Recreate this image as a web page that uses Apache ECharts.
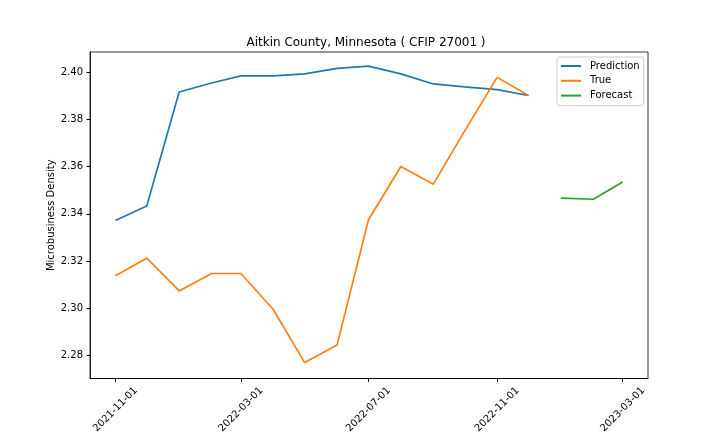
<!DOCTYPE html>
<html>
<head>
<meta charset="utf-8">
<script src="https://cdn.jsdelivr.net/npm/echarts@6/dist/echarts.min.js"></script>
<style>
  html, body { margin: 0; padding: 0; background: #fff; }
  #main { width: 720px; height: 432px; }
</style>
</head>
<body>
<div id="main"></div>
<script>
// data
var predDates = ['2021-11-01','2021-12-01','2022-01-01','2022-02-01','2022-03-01','2022-04-01','2022-05-01',
                 '2022-06-01','2022-07-01','2022-08-01','2022-09-01','2022-10-01','2022-11-01','2022-12-01'];
var prediction = [2.3372, 2.3433, 2.3917, 2.3955, 2.3985, 2.3985, 2.3994,
                  2.4017, 2.4027, 2.3994, 2.3951, 2.3939, 2.3927, 2.3902];
var trueVals = [2.3137, 2.3212, 2.3073, 2.3147, 2.3147, 2.2994, 2.2769,
                2.2844, 2.3375, 2.3601, 2.3526, 2.3752, 2.3979, 2.3902];
var fcDates = ['2023-01-01','2023-02-01','2023-03-01'];
var forecast = [2.3467, 2.3462, 2.3535];

var xTicks = ['2021-11-01','2022-03-01','2022-07-01','2022-11-01','2023-03-01'];
var yTicks = [2.28, 2.30, 2.32, 2.34, 2.36, 2.38, 2.40];

function ts(s) {
    var p = s.split('-');
    return Date.UTC(+p[0], +p[1] - 1, +p[2]);
}
function fmt(v) {
    var d = new Date(v);
    var m = d.getUTCMonth() + 1, dd = d.getUTCDate();
    return d.getUTCFullYear() + '-' + (m < 10 ? '0' : '') + m + '-' + (dd < 10 ? '0' : '') + dd;
}
function pairs(dates, vals) {
    return dates.map(function (d, i) { return [ts(d), vals[i]]; });
}

// matplotlib style 5% margins
var x0 = ts(predDates[0]), x1 = ts(fcDates[fcDates.length - 1]);
var xPad = (x1 - x0) * 0.05;
var xTickVals = xTicks.map(ts);

var font = 'DejaVu Sans';
var lw = 1.7;
var myChart = echarts.init(document.getElementById('main'));
var option = {
    backgroundColor: '#fff',
    animation: false,
    textStyle: { fontFamily: font },
    title: {
        text: 'Aitkin County, Minnesota ( CFIP 27001 )',
        left: 366,
        textAlign: 'center',
        top: 37,
        padding: 0,
        textStyle: { fontFamily: font, fontSize: 12, fontWeight: 'normal', color: '#000' }
    },
    legend: {
        orient: 'vertical',
        left: 557,
        top: 57,
        padding: [3, 4, 4, 4],
        icon: 'rect',
        itemWidth: 20,
        itemHeight: 2,
        itemGap: 2.8,
        backgroundColor: 'rgba(255,255,255,0.8)',
        borderColor: '#cccccc',
        borderWidth: 1,
        borderRadius: 3,
        textStyle: { fontFamily: font, fontSize: 10, lineHeight: 12, color: '#000', padding: [0, 0, 0, 4] },
        data: ['Prediction', 'True', 'Forecast']
    },
    grid: {
        left: 90, right: 72, top: 52, bottom: 53.5,
        outerBoundsMode: 'none',
        containLabel: false,
        show: true, borderColor: '#000', borderWidth: 0.8
    },
    xAxis: {
        type: 'value',
        min: x0 - xPad,
        max: x1 + xPad,
        splitLine: { show: false },
        axisLine: { lineStyle: { color: '#000', width: 0.8 } },
        axisTick: { customValues: xTickVals, length: 3.5, lineStyle: { color: '#000' } },
        axisLabel: {
            customValues: xTickVals,
            formatter: fmt,
            rotate: 45,
            align: 'center',
            verticalAlign: 'middle',
            margin: 31,
            fontFamily: font, fontSize: 10, color: '#000'
        }
    },
    yAxis: {
        type: 'value',
        min: 2.27015,
        max: 2.40866,
        name: 'Microbusiness Density',
        nameLocation: 'middle',
        nameGap: 34,
        nameMoveOverlap: false,
        nameTextStyle: { fontFamily: font, fontSize: 10, color: '#000' },
        splitLine: { show: false },
        axisLine: { show: true, lineStyle: { color: '#000', width: 0.8 } },
        axisTick: { show: true, customValues: yTicks, length: 3.5, lineStyle: { color: '#000' } },
        axisLabel: {
            customValues: yTicks,
            formatter: function (v) { return v.toFixed(2); },
            margin: 7,
            fontFamily: font, fontSize: 10, color: '#000'
        }
    },
    series: [
        { name: 'Prediction', type: 'line', symbol: 'none', data: pairs(predDates, prediction),
          lineStyle: { color: '#1f77b4', width: lw }, itemStyle: { color: '#1f77b4' } },
        { name: 'True', type: 'line', symbol: 'none', data: pairs(predDates, trueVals),
          lineStyle: { color: '#ff7f0e', width: lw }, itemStyle: { color: '#ff7f0e' } },
        { name: 'Forecast', type: 'line', symbol: 'none', data: pairs(fcDates, forecast),
          lineStyle: { color: '#2ca02c', width: lw }, itemStyle: { color: '#2ca02c' } }
    ]
};
myChart.setOption(option);
</script>
</body>
</html>
